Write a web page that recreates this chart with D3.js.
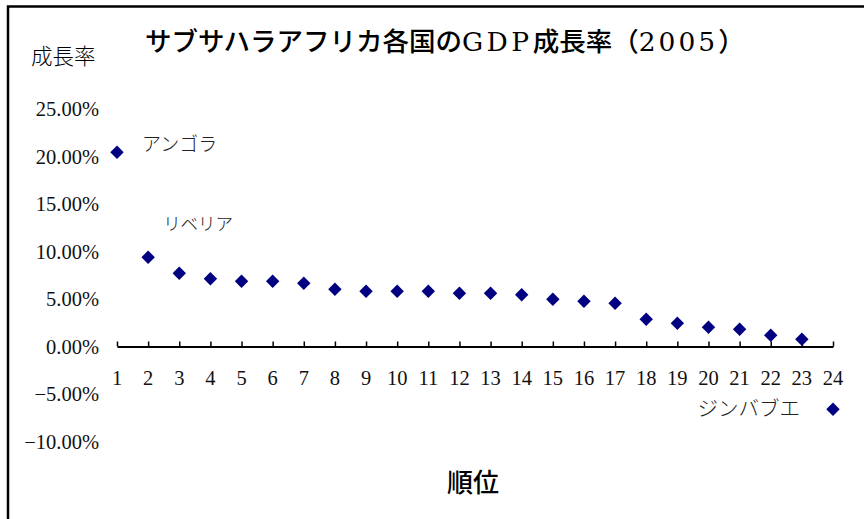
<!DOCTYPE html>
<html lang="ja">
<head>
<meta charset="utf-8">
<script src="https://cdn.jsdelivr.net/npm/d3@7"></script>
<style>
  html, body { margin: 0; padding: 0; background: #fff; }
  svg { display: block; }
  .num { font-family: "Liberation Serif", "DejaVu Serif", serif; }
  .jp { font-family: "Noto Sans CJK JP", "Noto Sans", sans-serif; }
  .latin { font-family: "DejaVu Serif", "Liberation Serif", serif; }
</style>
</head>
<body>
<svg id="chart" width="864" height="519"></svg>
<script>
// Rank of each country (x categories)
const ranks = d3.range(1, 25);
// GDP growth rate 2005 (%), ordered by rank
const growth = [20.45, 9.4, 7.72, 7.13, 6.87, 6.87, 6.66, 6.03, 5.82, 5.82, 5.82, 5.61,
                5.61, 5.44, 4.98, 4.77, 4.56, 2.87, 2.45, 2.03, 1.82, 1.19, 0.77, -6.6];
// Y-axis tick values (%)
const yTicks = [25, 20, 15, 10, 5, 0, -5, -10];
// Country names labelled next to their points
const labels = [
  { rank: 1, name: "アンゴラ" },
  { rank: 2, name: "リベリア" },
  { rank: 24, name: "ジンバブエ" }
];

const svg = d3.select("#chart");
const W = 864, H = 519;

// frame (top and left edges)
svg.append("path")
  .attr("d", `M8,${H} L8,6.5 L${W},6.5`)
  .attr("fill", "none").attr("stroke", "#000").attr("stroke-width", 2.5);

const x = d3.scaleLinear().domain([1, 24]).range([117, 833]);
const y = d3.scaleLinear().domain([-10, 25]).range([441.5, 109]);

// title: Japanese text with serif Latin runs
const titleParts = [
  { t: "サブサハラアフリカ各国の", cls: "jp" },
  { t: "GDP", cls: "latin", ls: 3.5 },
  { t: "成長率（", cls: "jp" },
  { t: "2005", cls: "latin", ls: 3 },
  { t: "）", cls: "jp" }
];
const title = svg.append("text")
  .attr("x", 145).attr("y", 51)
  .attr("font-size", 26.5).attr("font-weight", 500);
title.selectAll("tspan").data(titleParts).join("tspan")
  .attr("class", d => d.cls)
  .attr("letter-spacing", d => d.ls || 0)
  .text(d => d.t);

// y-axis title
svg.append("text").attr("class", "jp")
  .attr("x", 31).attr("y", 64)
  .attr("font-size", 21.5).attr("font-weight", 300)
  .text("成長率");

// y tick labels (no axis line)
svg.append("g").selectAll("text").data(yTicks).join("text")
  .attr("class", "num")
  .attr("x", 99).attr("y", d => y(d))
  .attr("dy", "0.35em")
  .attr("text-anchor", "end")
  .attr("font-size", 20.5).attr("fill", "#111")
  .text(d => (d < 0 ? "\u2212" : "") + Math.abs(d).toFixed(2) + "%");

// x axis at 0 with upward ticks
const xAxis = d3.axisBottom(x).tickValues(ranks).tickSizeInner(-5).tickSizeOuter(0).tickFormat("");
const gx = svg.append("g").attr("transform", `translate(0,${y(0)})`).call(xAxis);
gx.select(".domain").attr("stroke", "#000").attr("stroke-width", 2);
gx.selectAll(".tick line").attr("stroke", "#000").attr("stroke-width", 1.5);

// x tick labels
svg.append("g").selectAll("text").data(ranks).join("text")
  .attr("class", "num")
  .attr("x", d => x(d)).attr("y", 385)
  .attr("text-anchor", "middle")
  .attr("font-size", 20.5).attr("fill", "#111")
  .text(d => d);

// x-axis title
svg.append("text").attr("class", "jp")
  .attr("x", 473).attr("y", 492)
  .attr("text-anchor", "middle")
  .attr("font-size", 26).attr("font-weight", 500)
  .text("順位");

// diamond markers
const diamond = d3.symbol().type(d3.symbolDiamond2).size(115);
svg.append("g").selectAll("path").data(ranks).join("path")
  .attr("transform", (d, i) => `translate(${x(d)},${y(growth[i])})`)
  .attr("d", diamond)
  .attr("fill", "#000080");

// point annotations
const labelPos = {
  1: { dx: 25, dy: -8, anchor: "start", size: 19 },
  2: { dx: 15, dy: -33, anchor: "start", size: 17.5 },
  24: { dx: -33, dy: 0, anchor: "end", size: 20.5 }
};
svg.append("g").selectAll("text").data(labels).join("text")
  .attr("class", "jp")
  .attr("x", d => x(d.rank) + labelPos[d.rank].dx)
  .attr("y", d => y(growth[d.rank - 1]) + labelPos[d.rank].dy)
  .attr("dy", "0.35em")
  .attr("text-anchor", d => labelPos[d.rank].anchor)
  .attr("font-size", d => labelPos[d.rank].size).attr("font-weight", 300).attr("fill", "#222")
  .text(d => d.name);
</script>
</body>
</html>
